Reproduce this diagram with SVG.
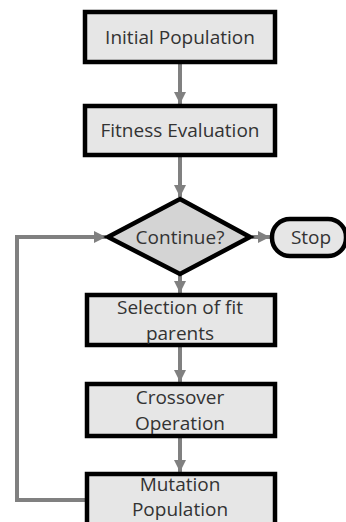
<svg xmlns="http://www.w3.org/2000/svg" width="346" height="522" viewBox="0 0 346 522">
<style>
.box{fill:#e6e6e6;stroke:#000;stroke-width:4.5}
.dia{fill:#d4d4d4;stroke:#000;stroke-width:4.5;stroke-linejoin:miter}
.t{font-family:"Open Sans","Liberation Sans",sans-serif;font-size:19px;fill:#333;text-anchor:middle;dominant-baseline:central}
.c{fill:none;stroke:#808080;stroke-width:4}
</style>
<defs>
<marker id="ah" viewBox="0 0 10 10" refX="10" refY="5" markerWidth="3" markerHeight="3" orient="auto" markerUnits="strokeWidth">
<path d="M0,0 L10,5 L0,10 z" fill="#808080"/>
</marker>
</defs>
<rect width="346" height="522" fill="#fff"/>
<g id="connectors">
<line class="c" x1="180" y1="64" x2="180" y2="104" marker-end="url(#ah)"/>
<line class="c" x1="180" y1="157" x2="180" y2="197" marker-end="url(#ah)"/>
<line class="c" x1="252" y1="237" x2="270" y2="237" marker-end="url(#ah)"/>
<line class="c" x1="180" y1="274" x2="180" y2="293" marker-end="url(#ah)"/>
<line class="c" x1="180" y1="347" x2="180" y2="382" marker-end="url(#ah)"/>
<line class="c" x1="180" y1="438" x2="180" y2="472" marker-end="url(#ah)"/>
<polyline class="c" points="85,500 17,500 17,237 106,237" marker-end="url(#ah)"/>
</g>
<g id="initial">
<rect class="box" x="85" y="12" width="190" height="50"/>
<text class="t" x="180" y="37">Initial Population</text>
</g>
<g id="fitness">
<rect class="box" x="85" y="106" width="190" height="49"/>
<text class="t" x="180" y="130">Fitness Evaluation</text>
</g>
<g id="continue">
<polygon class="dia" points="180,199 250,237 180,274 108,237"/>
<text class="t" x="180" y="237">Continue?</text>
</g>
<g id="stop">
<rect class="box" x="272" y="219" width="74" height="37" rx="18" ry="18"/>
<text class="t" x="311" y="237">Stop</text>
</g>
<g id="selection">
<rect class="box" x="87" y="295" width="188" height="50"/>
<text class="t" x="180" y="307">Selection of fit</text>
<text class="t" x="180" y="333">parents</text>
</g>
<g id="crossover">
<rect class="box" x="87" y="384" width="188" height="52"/>
<text class="t" x="180" y="397">Crossover</text>
<text class="t" x="180" y="423">Operation</text>
</g>
<g id="mutation">
<rect class="box" x="87" y="474" width="188" height="52"/>
<text class="t" x="180" y="483.5">Mutation</text>
<text class="t" x="180" y="508.5">Population</text>
</g>
</svg>
